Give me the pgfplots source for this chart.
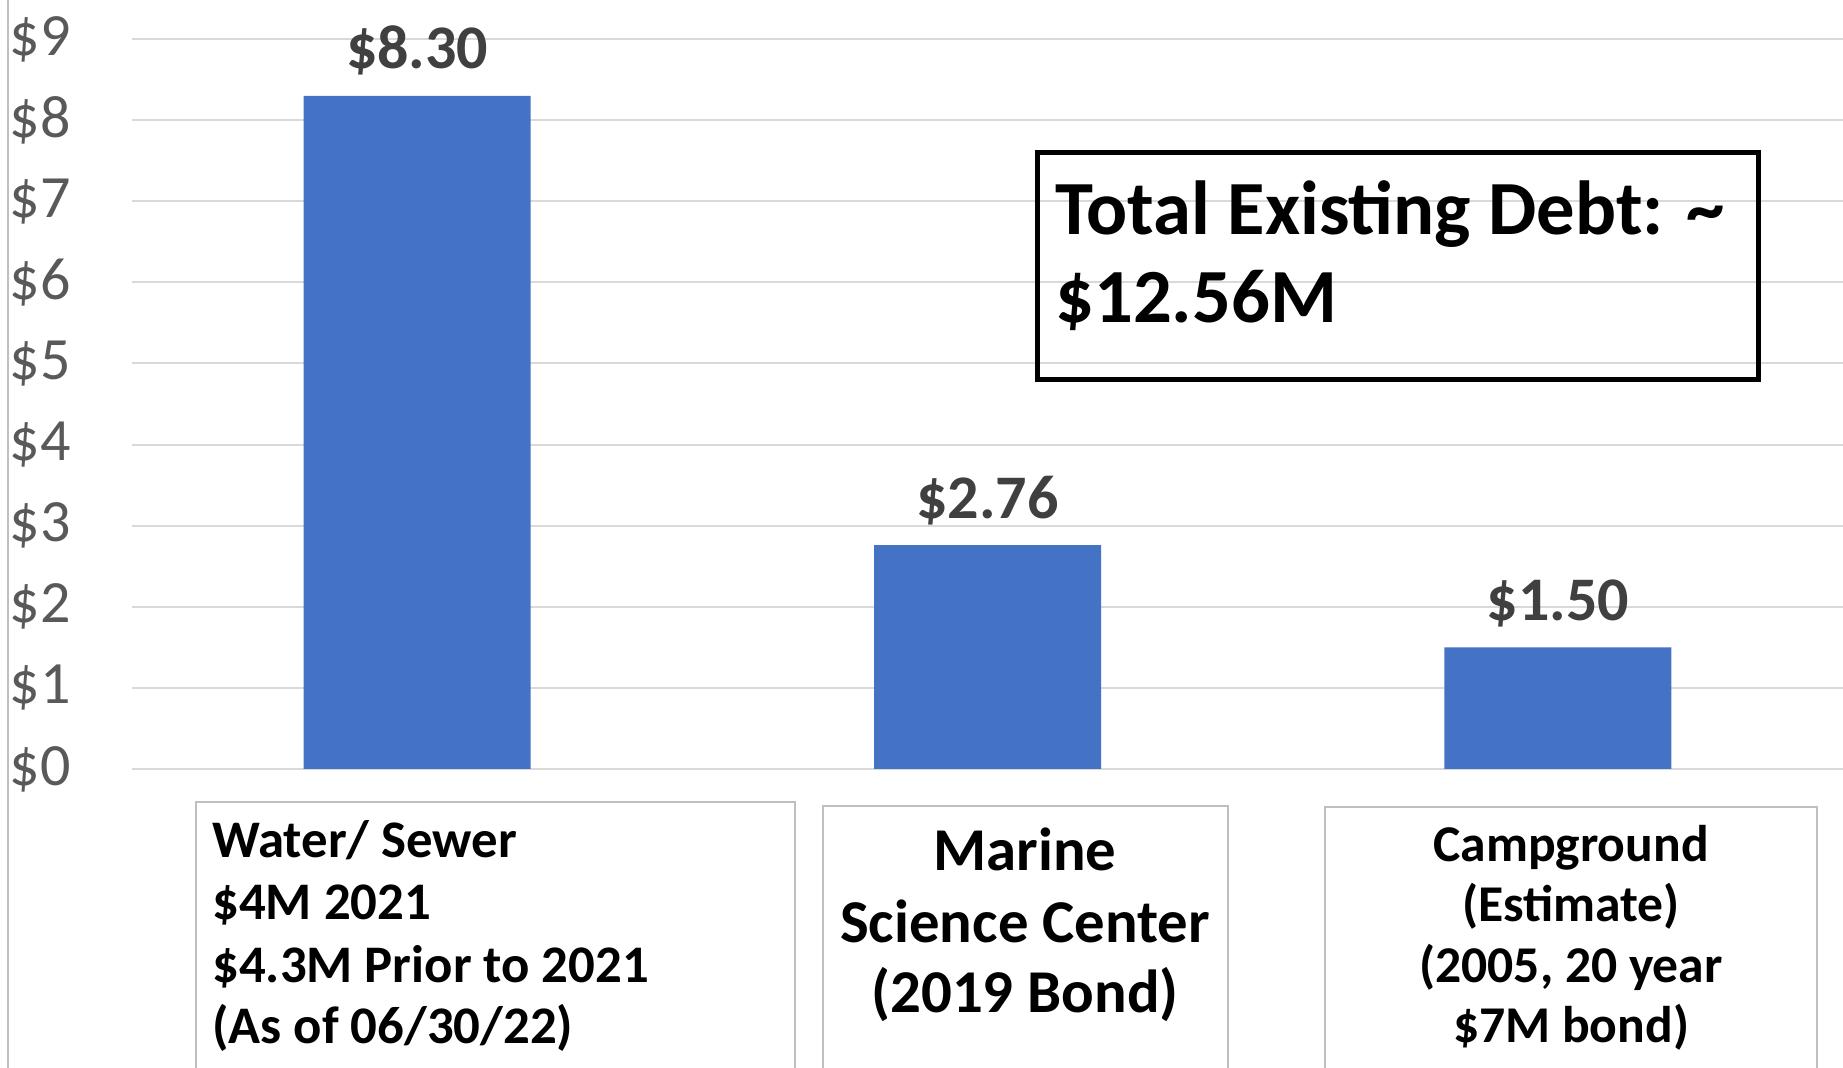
\documentclass[border=0pt]{standalone}
\usepackage{fontspec}
\setmainfont{Carlito}
\usepackage{pgfplots}
\pgfplotsset{compat=1.18}

\definecolor{barblue}{HTML}{4472C4}
\definecolor{gridgray}{HTML}{D9D9D9}
\definecolor{ticktext}{HTML}{595959}
\definecolor{valtext}{HTML}{404040}
\definecolor{boxgray}{HTML}{BFBFBF}

\begin{document}
% 1 px of the reference = 0.5pt
\begin{tikzpicture}[x=0.5pt,y=0.5pt]
\useasboundingbox (0,0) rectangle (1843,1068);
\clip (0,0) rectangle (1843,1068);
\fill[white] (0,0) rectangle (1843,1068);
\draw[boxgray,line width=0.8pt] (8,0) -- (8,1068);

\begin{axis}[
    at={(66pt,149.5pt)},
    anchor=south west,
    scale only axis,
    width=855.5pt,
    height=365pt,
    xmin=-0.5, xmax=2.5,
    ymin=0, ymax=9,
    xtick=\empty,
    ytick={0,1,...,9},
    yticklabel={\$\pgfmathprintnumber[assume math mode=true]{\tick}},
    yticklabel style={anchor=east, inner sep=0pt, xshift=-30.5pt,
        font=\fontsize{30pt}{36pt}\selectfont, text=ticktext},
    axis line style={draw=none},
    major tick length=0pt,
    ymajorgrids,
    grid style={gridgray, line width=1pt},
    clip=false,
]
\addplot[ybar, bar width=113.5pt, fill=barblue, draw=none,
    nodes near coords={\$\pgfmathprintnumber[fixed,fixed zerofill,precision=2,assume math mode=true]{\pgfplotspointmeta}},
    every node near coord/.append style={anchor=base, yshift=13.5pt,
        font=\bfseries\fontsize{31pt}{37pt}\selectfont, text=valtext}]
    coordinates {(0,8.30) (1,2.76) (2,1.50)};
\end{axis}

% total box
\draw[black, line width=2.5pt] (1037,688) rectangle (1758,915);
\node[anchor=base west, inner sep=0pt, font=\bfseries\fontsize{38.3pt}{46pt}\selectfont] at (1055,833) {Total Existing Debt: \textasciitilde};
\node[anchor=base west, inner sep=0pt, font=\bfseries\fontsize{38.3pt}{46pt}\selectfont] at (1055,745) {\$12.56M};

% category boxes
\draw[boxgray, line width=0.8pt] (196,-10) rectangle (795,266);
\draw[boxgray, line width=0.8pt] (823,-10) rectangle (1228,262);
\draw[boxgray, line width=0.8pt] (1325,-10) rectangle (1817,261);

\begin{scope}[every node/.style={anchor=base west, inner sep=0pt, font=\bfseries\fontsize{26.4pt}{32pt}\selectfont}]
\node at (212,210) {Water/ Sewer};
\node at (212,148) {\$4M 2021};
\node at (212,85) {\$4.3M Prior to 2021};
\node at (212,24) {(As of 06/30/22)};
\end{scope}

\begin{scope}[every node/.style={anchor=base, inner sep=0pt, font=\bfseries\fontsize{30.4pt}{36pt}\selectfont}]
\node at (1025,197) {Marine};
\node at (1025,125) {Science Center};
\node at (1025,55) {(2019 Bond)};
\end{scope}

\begin{scope}[every node/.style={anchor=base, inner sep=0pt, font=\bfseries\fontsize{25.8pt}{31pt}\selectfont}]
\node at (1571,206) {Campground};
\node at (1571,146) {(Estimate)};
\node at (1571,85) {(2005, 20 year};
\node at (1571,25) {\$7M bond)};
\end{scope}
\end{tikzpicture}
\end{document}
